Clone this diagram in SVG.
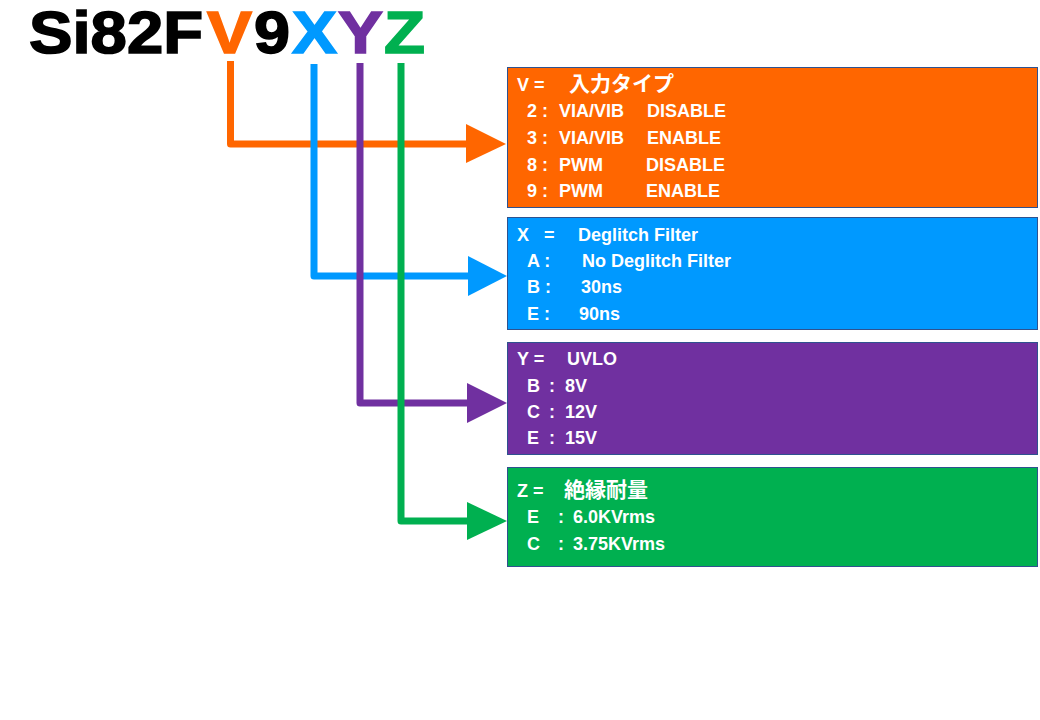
<svg xmlns="http://www.w3.org/2000/svg" width="1040" height="720" viewBox="0 0 1040 720">
<style>
.title{font-family:"Liberation Sans",Arial,sans-serif;font-weight:bold;font-size:60px;stroke-width:1.6px}
.t{font-family:"Liberation Sans","Noto Sans CJK JP",sans-serif;font-weight:bold;font-size:18px;fill:#fff}
.cjk{font-family:"Noto Sans CJK JP",sans-serif;font-weight:bold;font-size:21px;fill:#fff}
.box{stroke:#2F528F;stroke-width:1}
.ln{fill:none;stroke-width:7;stroke-linejoin:round}
</style>
<rect width="1040" height="720" fill="#fff"/>
<g id="title">
<text class="title" x="29" y="53" textLength="174" lengthAdjust="spacingAndGlyphs" fill="#000" stroke="#000">Si82F</text>
<text class="title" x="207" y="53" textLength="45" lengthAdjust="spacingAndGlyphs" fill="#FF6600" stroke="#FF6600">V</text>
<text class="title" x="254" y="53" textLength="36" lengthAdjust="spacingAndGlyphs" fill="#000" stroke="#000">9</text>
<text class="title" x="292" y="53" textLength="45" lengthAdjust="spacingAndGlyphs" fill="#0099FF" stroke="#0099FF">X</text>
<text class="title" x="338" y="53" textLength="45" lengthAdjust="spacingAndGlyphs" fill="#7030A0" stroke="#7030A0">Y</text>
<text class="title" x="384" y="53" textLength="41" lengthAdjust="spacingAndGlyphs" fill="#00B050" stroke="#00B050">Z</text>
</g>
<g id="connectors">
<path class="ln" stroke="#FF6600" d="M230.5 61 V144 H470"/>
<polygon fill="#FF6600" points="466,124 506,144 466,163"/>
<path class="ln" stroke="#0099FF" d="M314 64 V276 H470"/>
<polygon fill="#0099FF" points="468,256 507,276 468,296"/>
<path class="ln" stroke="#7030A0" d="M360 63 V403 H470"/>
<polygon fill="#7030A0" points="467,383 507,403 467,423"/>
<path class="ln" stroke="#00B050" d="M401 63 V521 H470"/>
<polygon fill="#00B050" points="467,502 507,521 467,540"/>
</g>
<g id="box-v">
<rect class="box" x="507.5" y="67.5" width="530" height="140" fill="#FF6600"/>
<text class="t" x="517" y="91">V =</text><text class="cjk" x="569" y="91">入力タイプ</text>
<text class="t" x="527" y="117">2 :</text><text class="t" x="559" y="117">VIA/VIB</text><text class="t" x="647" y="117">DISABLE</text>
<text class="t" x="527" y="144">3 :</text><text class="t" x="559" y="144">VIA/VIB</text><text class="t" x="647" y="144">ENABLE</text>
<text class="t" x="527" y="171">8 :</text><text class="t" x="559" y="171">PWM</text><text class="t" x="646" y="171">DISABLE</text>
<text class="t" x="527" y="197">9 :</text><text class="t" x="559" y="197">PWM</text><text class="t" x="646" y="197">ENABLE</text>
</g>
<g id="box-x">
<rect class="box" x="507.5" y="217.5" width="530" height="112" fill="#0099FF"/>
<text class="t" x="517" y="241">X</text><text class="t" x="544" y="241">=</text><text class="t" x="578" y="241">Deglitch Filter</text>
<text class="t" x="527" y="267">A :</text><text class="t" x="582" y="267">No Deglitch Filter</text>
<text class="t" x="527" y="293">B :</text><text class="t" x="581" y="293">30ns</text>
<text class="t" x="527" y="320">E :</text><text class="t" x="579" y="320">90ns</text>
</g>
<g id="box-y">
<rect class="box" x="507.5" y="342.5" width="530" height="112" fill="#7030A0"/>
<text class="t" x="517" y="365">Y =</text><text class="t" x="567" y="365">UVLO</text>
<text class="t" x="527" y="392">B</text><text class="t" x="549" y="392">:</text><text class="t" x="565" y="392">8V</text>
<text class="t" x="527" y="418">C</text><text class="t" x="549" y="418">:</text><text class="t" x="565" y="418">12V</text>
<text class="t" x="527" y="444">E</text><text class="t" x="549" y="444">:</text><text class="t" x="565" y="444">15V</text>
</g>
<g id="box-z">
<rect class="box" x="507.5" y="467.5" width="530" height="99" fill="#00B050"/>
<text class="t" x="517" y="497">Z =</text><text class="cjk" x="564" y="497" font-size="22">絶縁耐量</text>
<text class="t" x="527" y="523">E</text><text class="t" x="558" y="523">:</text><text class="t" x="573" y="523">6.0KVrms</text>
<text class="t" x="527" y="550">C</text><text class="t" x="558" y="550">:</text><text class="t" x="573" y="550">3.75KVrms</text>
</g>
</svg>
